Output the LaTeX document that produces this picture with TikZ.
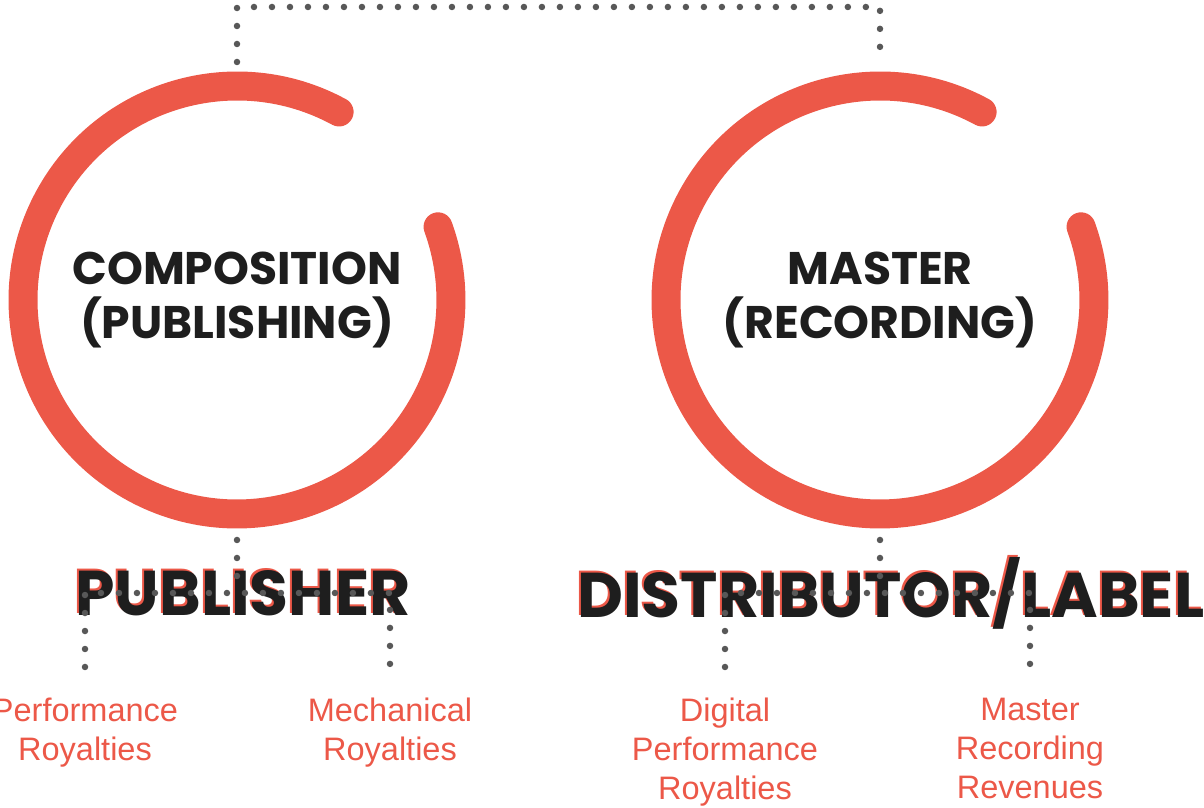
\documentclass[tikz,border=0pt]{standalone}
\usepackage{fontspec}
\setmainfont{Liberation Sans}
\newfontfamily\headfont{Poppins}
\usetikzlibrary{positioning}

\definecolor{royred}{RGB}{236,88,72}
\definecolor{dotgray}{RGB}{88,88,88}
\definecolor{inkblack}{RGB}{30,30,30}

\tikzset{
  ring/.style={draw=royred, line width=0.58cm, line cap=round},
  dots/.style={draw=dotgray, line width=0.13cm, line cap=round, dash pattern=on 0pt off 0.36cm},
  inner/.style={font=\headfont\bfseries\fontsize{26}{31}\selectfont, text=inkblack, align=center},
  owner/.style={font=\headfont\bfseries\fontsize{36}{40}\selectfont, inner sep=0pt},
  stream/.style={font=\fontsize{18.5}{22}\selectfont, text=royred, align=center, inner sep=0pt},
}

\begin{document}
\begin{tikzpicture}[x=0.02cm, y=0.02cm]
  \useasboundingbox (0,0) rectangle (1204,808);

  % the two rights
  \node [inner] (comp) at (237,508) {COMPOSITION\\(PUBLISHING)};
  \node [inner] (mast) at (880,508) {MASTER\\(RECORDING)};
  \draw [ring] (comp.center) ++(61.5:4.28cm) arc [start angle=61.5, end angle=380, radius=4.28cm];
  \draw [ring] (mast.center) ++(61.5:4.28cm) arc [start angle=61.5, end angle=380, radius=4.28cm];

  % link over the top
  \coordinate (compTop) at (237,746);
  \coordinate (mastTop) at (880,746);
  \coordinate (linkL) at (237,801);
  \coordinate (linkR) at (880,801);
  \draw [dots] (compTop) -- (linkL) -- (linkR) -- (mastTop);

  % owners, red print under black
  \node [owner, text=royred] at (241,217) {PUBLISHER};
  \node [owner, text=inkblack] (pub) at (243,215) {PUBLISHER};
  \node [owner, text=royred, anchor=west] at (575,217) {DISTRIBUTOR/LABEL};
  \node [owner, text=inkblack, anchor=west] (dist) at (577,215) {DISTRIBUTOR/LABEL};

  % branches
  \coordinate (compBot) at (237,268);
  \coordinate (pubBar) at (237,215);
  \coordinate (perfEnd) at (85,141);
  \coordinate (mechEnd) at (390,141);
  \draw [dots] (compBot) -- (pubBar);
  \draw [dots] (perfEnd) |- (pubBar) -| (mechEnd);

  \coordinate (mastBot) at (880,268);
  \coordinate (distBar) at (880,215);
  \coordinate (digiEnd) at (725,141);
  \coordinate (recEnd) at (1030,141);
  \draw [dots] (mastBot) -- (distBar);
  \draw [dots] (digiEnd) |- (distBar) -| (recEnd);

  % royalty streams
  \node [stream, below=0.62cm of perfEnd] (perf) {Performance\\Royalties};
  \node [stream, below=0.62cm of mechEnd] (mech) {Mechanical\\Royalties};
  \node [stream, below=0.62cm of digiEnd] (digi) {Digital\\Performance\\Royalties};
  \node [stream, below=0.62cm of recEnd] (rec) {Master\\Recording\\Revenues};
\end{tikzpicture}
\end{document}
